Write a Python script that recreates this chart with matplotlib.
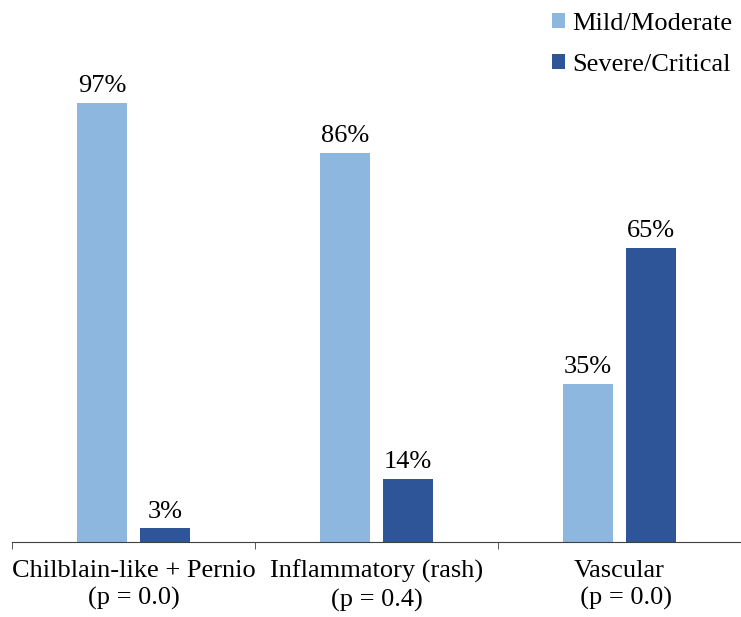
import numpy as np
import matplotlib.pyplot as plt

categories = ["Chilblain-like + Pernio\n(p = 0.0)", "Inflammatory (rash)\n(p = 0.4)", "Vascular\n  (p = 0.0)"]
mild = [97, 86, 35]
severe = [3, 14, 65]
series_names = ["Mild/Moderate", "Severe/Critical"]

plt.rcParams['font.family'] = ['Liberation Serif', 'DejaVu Serif']
fs = 19

W, H = 741, 617
fig = plt.figure(figsize=(W / 100, H / 100), dpi=100)
cat_px = 246.75
ax = fig.add_axes([12 / W, (H - 542) / H, (W - 12) / W, 452.6 / H])

x = np.arange(len(categories))
bw = 0.205
off = 0.13
c_light = "#8DB7DE"
c_dark = "#2E5597"
b1 = ax.bar(x - off, mild, bw, color=c_light, label=series_names[0])
b2 = ax.bar(x + off, severe, bw, color=c_dark, label=series_names[1])
for bars in (b1, b2):
    ax.bar_label(bars, labels=[f"{v}%" for v in bars.datavalues], padding=4, fontsize=fs)

ax.set_xlim(-0.5, -0.5 + (W - 12) / cat_px)
ax.set_ylim(0, 100)
ax.set_yticks([])
for s in ("left", "right", "top"):
    ax.spines[s].set_visible(False)
ax.spines["bottom"].set_color("#404040")
ax.set_xticks(x)
ax.set_xticklabels(categories, fontsize=fs, linespacing=1.3)
ax.tick_params(axis="x", which="major", length=0, pad=13)
ax.set_xticks([-0.5, 0.5, 1.5, 2.5], minor=True)
ax.tick_params(axis="x", which="minor", length=5, color="#404040")

ax.legend(loc="upper left", bbox_to_anchor=(552 / W, 1 - 13 / H), bbox_transform=fig.transFigure,
          frameon=False, fontsize=fs, handlelength=0.5, handleheight=0.5,
          handletextpad=0.27, labelspacing=0.73, borderpad=0, borderaxespad=0)

fig.savefig("out.png", dpi=100)
